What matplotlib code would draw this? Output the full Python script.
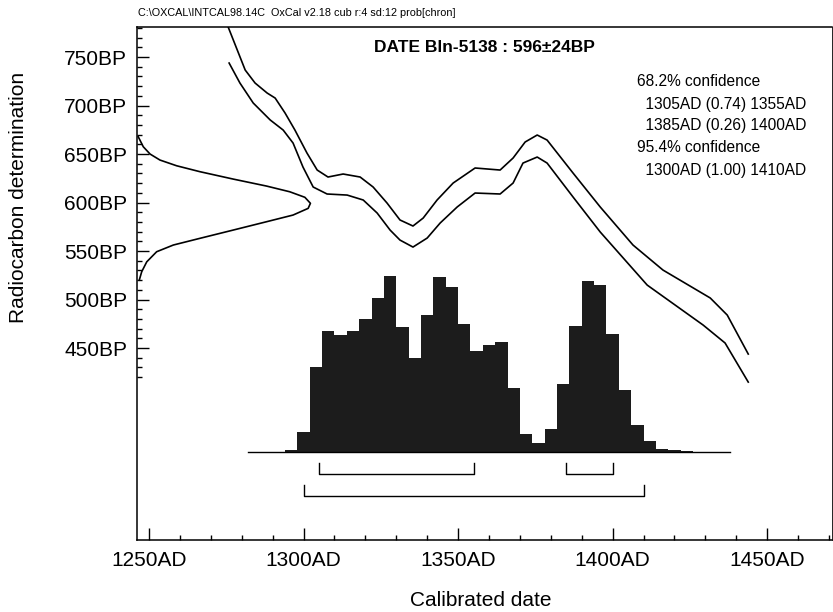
import matplotlib
matplotlib.use("Agg")
from matplotlib import pyplot as plt
from matplotlib import transforms

plt.rcParams['font.family'] = ['Liberation Sans', 'DejaVu Sans']

# calibration curve (+/- 1 sigma), calendar year AD vs radiocarbon age BP
upper_year = [1275.6, 1281.1, 1284.3, 1288.2, 1290.8, 1294.0, 1297.2, 1301.1, 1304.4, 1307.9,
              1312.8, 1318.3, 1322.5, 1327.0, 1331.2, 1335.4, 1338.7, 1343.2, 1348.4, 1355.5,
              1363.6, 1367.8, 1371.7, 1375.6, 1378.8, 1387.2, 1396.0, 1406.6, 1416.3, 1431.6,
              1437.1, 1443.9]
upper_bp = [780.9, 736.6, 723.2, 712.9, 707.7, 692.3, 674.7, 651.0, 633.5, 626.3,
            629.4, 626.3, 616.0, 599.5, 582.0, 575.8, 584.0, 602.6, 620.1, 635.6,
            633.5, 645.9, 662.4, 669.6, 664.4, 630.4, 595.4, 556.2, 530.4, 501.6,
            484.0, 443.8]
lower_year = [1275.9, 1279.4, 1283.7, 1289.2, 1293.4, 1296.6, 1299.8, 1303.1, 1307.6, 1314.1,
              1319.3, 1323.8, 1328.0, 1331.2, 1335.4, 1340.0, 1344.2, 1349.7, 1355.5, 1363.6,
              1367.8, 1371.0, 1375.6, 1378.8, 1387.2, 1396.0, 1411.2, 1429.3, 1436.4, 1443.9]
lower_bp = [743.8, 723.2, 702.6, 685.1, 674.7, 661.3, 636.6, 616.0, 608.8, 607.7,
            602.6, 589.2, 571.6, 561.3, 554.1, 563.4, 578.9, 595.4, 609.8, 608.8,
            620.1, 640.7, 646.9, 640.7, 605.7, 569.6, 514.9, 473.7, 455.2, 414.9]

# radiocarbon measurement 596 +/- 24 BP (relative probability)
meas_bp = [667.8, 657.5, 650.0, 643.8, 637.9, 631.8, 624.2, 617.0, 611.1, 605.4, 599.2,
           594.0, 587.1, 580.2, 571.6, 563.1, 556.2, 549.3, 538.9, 528.7, 520.1]
meas_prob = [0.007, 0.036, 0.075, 0.132, 0.228, 0.362, 0.553, 0.745, 0.879, 0.966, 0.998,
             0.985, 0.898, 0.745, 0.553, 0.362, 0.209, 0.113, 0.056, 0.027, 0.013]

# calibrated distribution, 4-year bins
bin_start = [1294, 1298, 1302, 1306, 1310, 1314, 1318, 1322, 1326, 1330, 1334, 1338, 1342,
             1346, 1350, 1354, 1358, 1362, 1366, 1370, 1374, 1378, 1382, 1386, 1390, 1394,
             1398, 1402, 1406, 1410, 1414, 1418, 1422]
bin_prob = [0.013, 0.114, 0.483, 0.688, 0.663, 0.686, 0.754, 0.873, 1.000, 0.710, 0.536,
            0.780, 0.994, 0.938, 0.729, 0.572, 0.606, 0.625, 0.366, 0.100, 0.051, 0.129,
            0.384, 0.714, 0.970, 0.951, 0.669, 0.350, 0.153, 0.061, 0.019, 0.009, 0.004]
bin_width = 4

# confidence ranges
range_68 = [(1305, 1355), (1385, 1400)]
range_95 = [(1300, 1410)]
conf_lines = ["68.2% confidence", "  1305AD (0.74) 1355AD", "  1385AD (0.26) 1400AD",
              "95.4% confidence", "  1300AD (1.00) 1410AD"]

x_major = [1250, 1300, 1350, 1400, 1450]
y_major = [450, 500, 550, 600, 650, 700, 750]

fig = plt.figure(figsize=(8.33, 6.12), dpi=100)
ax = fig.add_axes([0.1645, 0.1176, 0.8343, 0.8382])
ax.set_xlim(1246.1, 1471.0)
ax.set_ylim(252.1, 780.9)

lw = 1.2
ax.plot(upper_year, upper_bp, color='black', lw=lw)
ax.plot(lower_year, lower_bp, color='black', lw=lw)

# measurement curve along the y axis
tr = transforms.blended_transform_factory(ax.transAxes, ax.transData)
ax.plot([p * 0.25 for p in meas_prob], meas_bp, color='black', lw=lw, transform=tr)

# histogram of calibrated date
base = 342.8
scale = 181.4
ax.bar(bin_start, [p * scale for p in bin_prob], width=bin_width, bottom=base,
       align='edge', color='#1c1c1c', edgecolor='none')
ax.plot([1282, 1438], [base, base], color='black', lw=1.0)

# confidence brackets
tick_h = 11.3
for y, ranges in [(320.1, range_68), (297.4, range_95)]:
    for a, b in ranges:
        ax.plot([a, a, b, b], [y + tick_h, y, y, y + tick_h], color='black', lw=1.0)

ax.set_xticks(x_major)
ax.set_xticklabels([f"{v}AD" for v in x_major])
ax.set_xticks([v for v in range(1260, 1471, 10) if v not in x_major], minor=True)
ax.set_yticks(y_major)
ax.set_yticklabels([f"{v}BP" for v in y_major])
ax.set_yticks([v for v in range(420, 781, 10) if v not in y_major], minor=True)
ax.tick_params(which='major', direction='in', length=8.6, width=1.0, labelsize=15)
ax.tick_params(which='minor', direction='in', length=3.6, width=1.0)
ax.tick_params(axis='x', which='major', pad=8)
ax.tick_params(axis='y', which='major', pad=7.2)
for s in ax.spines.values():
    s.set_linewidth(1.1)
ax.spines['right'].set_linewidth(0.6)

fig.text(481 / 833, 1 - 600 / 612, "Calibrated date", ha='center', va='center', fontsize=15)
fig.text(19 / 833, 1 - 197 / 612, "Radiocarbon determination", ha='center', va='center',
         rotation=90, fontsize=15)
fig.text(138 / 833, 1 - 13 / 612, "C:\\OXCAL\\INTCAL98.14C  OxCal v2.18 cub r:4 sd:12 prob[chron]",
         ha='left', va='center', fontsize=7.8)
fig.text(484 / 833, 1 - 48 / 612, "DATE Bln-5138 : 596\u00b124BP", ha='center', va='center',
         fontsize=12.5, fontweight='bold')
for i, line in enumerate(conf_lines):
    fig.text(637 / 833, 1 - (82 + 22 * i) / 612, line, ha='left', va='center', fontsize=11.2)

fig.savefig("out.png", dpi=100)
